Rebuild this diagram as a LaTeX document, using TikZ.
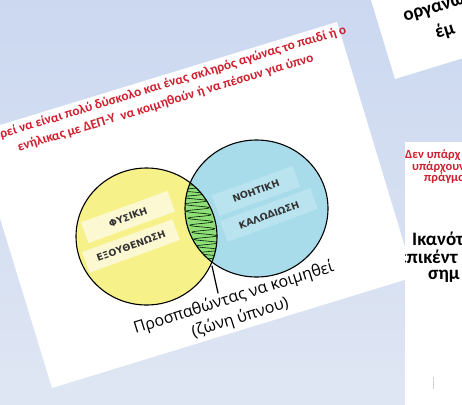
\documentclass[tikz,border=0pt]{standalone}
\usepackage{fontspec}
\setmainfont{Carlito}
\newfontfamily\labelfont{DejaVu Sans}
\newfontfamily\sleepfont{Open Sans}
\definecolor{bgtop}{HTML}{CBD8F0}
\definecolor{bgbot}{HTML}{DFE6F3}
\definecolor{redtxt}{HTML}{D01F2E}
\definecolor{vyellow}{HTML}{F7F18A}
\definecolor{vblue}{HTML}{A8DCEA}
\definecolor{vgreen}{HTML}{8FDE78}
\definecolor{yband}{HTML}{FBF8D2}
\definecolor{bband}{HTML}{B9E4EF}
\definecolor{labeltxt}{HTML}{333333}
\tikzset{
  card/.style={fill=white},
  redintro/.style={text=redtxt, font=\bfseries\fontsize{13.3}{17.5}\selectfont, align=center, inner sep=0pt},
  redsmall/.style={text=redtxt, font=\bfseries\fontsize{12.5}{14}\selectfont, anchor=west, inner sep=0pt},
  bigtxt/.style={text=black, font=\bfseries\fontsize{19}{22}\selectfont, anchor=west, inner sep=0pt},
  vlabel/.style={text=labeltxt, font=\labelfont\bfseries\fontsize{9.5}{11}\selectfont, inner sep=0pt, rotate=20},
  yellowband/.style={vlabel, fill=yband, minimum width=92pt, minimum height=22pt},
  blueband/.style={vlabel, fill=bband, minimum height=22pt},
  outline/.style={draw=black, line width=1.1pt},
  hatch/.style={draw=black!80!green!60!black, line width=0.6pt},
  sleeptxt/.style={text=black, font=\sleepfont\fontsize{16}{21}\selectfont, align=center, inner sep=0pt, rotate=17.4}
}
\begin{document}
\begin{tikzpicture}[x=1pt,y=-1pt]
\useasboundingbox (0,0) rectangle (462,404);
\clip (0,0) rectangle (462,404);
\shade[top color=bgtop, bottom color=bgbot] (0,0) rectangle (462,404);

% top-right card
\fill[card] (395,79) -- (682,-9) -- (624,-200) -- (337,-112) -- cycle;
\node[bigtxt, rotate=17, anchor=base west] (org) at (405,22) {οργανώ};
\node[bigtxt, rotate=17, anchor=base west] (emp) at (437,39) {έμ};

% main card
\coordinate (cBL) at (52,388);
\coordinate (cBR) at (414,277);
\coordinate (cTR) at (337,22);
\coordinate (cTL) at (-26,133);
\fill[card] (cBL) -- (cBR) -- (cTR) -- (cTL) -- cycle;

\node[redintro, rotate=17] (intro) at (163,94.5)
  {Μπορεί να είναι πολύ δύσκολο και ένας σκληρός αγώνας το παιδί ή ο\\ ενήλικας με ΔΕΠ-Υ\ \ να κοιμηθούν ή να πέσουν για ύπνο};

% Venn diagram
\def\yelpath{(146.5,236.5) ellipse [x radius=70.5pt, y radius=68.5pt]}
\def\blupath{(256.5,208.5) ellipse [x radius=71.5pt, y radius=68.5pt]}
\fill[vyellow] \yelpath;
\fill[vblue] \blupath;
\begin{scope}
  \clip \yelpath;
  \fill[vgreen] \blupath;
  \clip \blupath;
  \draw[hatch] plot[domain=-5:85, samples=400, variable=\x]
    ({191+\x*0.27+12*sin(51.43*\x)}, {185+\x});
\end{scope}

\node[yellowband] (fys) at (128,217) {ΦΥΣΙΚΗ};
\node[yellowband, minimum width=96pt] (exo) at (131,246) {ΕΞΟΥΘΕΝΩΣΗ};
\node[blueband, minimum width=86pt] (noi) at (256,191) {ΝΟΗΤΙΚΗ};
\node[blueband, minimum width=96pt] (kal) at (269,215) {ΚΑΛΩΔΙΩΣΗ};

\draw[outline] \yelpath;
\draw[outline] \blupath;

\coordinate (lensbot) at (212,266);
\coordinate (tagtop) at (218,293);
\draw[line width=1.2pt, line cap=round] (lensbot) -- (tagtop);
\node[sleeptxt] (sleep) at (237,308) {Προσπαθώντας να κοιμηθεί\\(ζώνη ύπνου)};

% right card
\fill[card] (405,142) rectangle (470,410);
\begin{scope}
  \clip (405,142) rectangle (470,410);
  \node[redsmall] (r1) at (405,155) {Δεν υπάρχ};
  \node[redsmall] (r2) at (412,167) {υπάρχουν};
  \node[redsmall] (r3) at (424,178) {πράγμα};
  \node[bigtxt] (b1) at (412,239) {Ικανότ};
  \node[bigtxt] (b2) at (398,257) {επικέντ};
  \node[bigtxt] (b3) at (428,276) {σημ};
  \draw[gray!35, line width=1pt] (433,377) -- (433,389);
\end{scope}
\end{tikzpicture}
\end{document}
